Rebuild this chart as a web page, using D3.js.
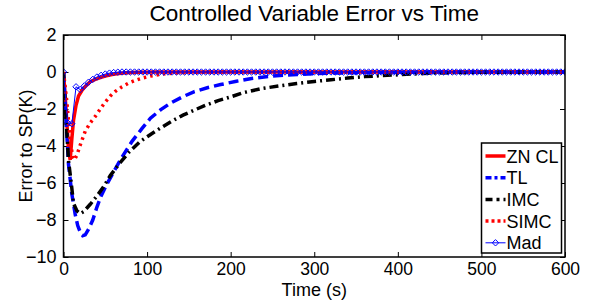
<!DOCTYPE html>
<html>
<head>
<meta charset="utf-8">
<script src="https://cdn.jsdelivr.net/npm/d3@7"></script>
<style>
  body { margin: 0; background: #fff; }
  text { font-family: "Liberation Sans", Arial, sans-serif; }
</style>
</head>
<body>
<div id="chart"></div>
<script>
// ZN CL (red solid)
const znTime = [0, 3, 6, 8, 10, 12, 15, 18, 22, 26, 32, 38, 44, 50, 58, 66, 75, 90, 110, 600];
const znErr  = [0, -2.0, -4.2, -4.75, -3.6, -2.6, -1.8, -1.3, -1.0, -0.78, -0.52, -0.4, -0.3, -0.22, -0.14, -0.08, -0.04, -0.01, 0, 0];

// TL (blue dashed)
const tlTime = [0, 3, 6, 10, 14, 17, 20, 23, 26, 30, 35, 40, 45, 52, 60, 70, 82, 94, 104, 116, 128, 142, 156, 172, 188, 207, 225, 250, 280, 320, 380, 450, 600];
const tlErr  = [0, -2.6, -5.0, -6.6, -7.7, -8.3, -8.65, -8.85, -8.8, -8.5, -8.0, -7.3, -6.7, -6.05, -5.4, -4.6, -3.75, -3.05, -2.5, -2.05, -1.68, -1.35, -1.07, -0.85, -0.68, -0.5, -0.35, -0.22, -0.13, -0.06, -0.02, 0, 0];

// IMC (black dash-dot)
const imcTime = [0, 3, 6, 9, 12, 16, 20, 24, 28, 32, 40, 48, 56, 66, 78, 92, 105, 116, 130, 143, 157, 171, 185, 199, 215, 239, 260, 279, 300, 320, 340, 360, 380, 400, 430, 470, 520, 600];
const imcErr  = [0, -2.5, -4.8, -5.9, -7.1, -7.5, -7.65, -7.55, -7.35, -7.15, -6.7, -6.2, -5.6, -5.0, -4.35, -3.75, -3.35, -3.03, -2.65, -2.33, -2.05, -1.78, -1.55, -1.36, -1.12, -0.88, -0.74, -0.62, -0.51, -0.42, -0.33, -0.25, -0.2, -0.15, -0.08, -0.03, -0.01, 0];

// SIMC (red dotted)
const simcTime = [0, 4, 8, 11, 13, 16, 20, 26, 32, 38, 44, 50, 56, 62, 70, 78, 86, 94, 104, 115, 130, 150, 180, 600];
const simcErr  = [0, -1.6, -3.7, -4.6, -4.75, -4.5, -3.95, -3.2, -2.75, -2.4, -2.0, -1.62, -1.3, -1.05, -0.8, -0.6, -0.45, -0.33, -0.22, -0.13, -0.06, -0.02, 0, 0];

// Mad (blue with diamonds), sampled every 5 s
const madTime = d3.range(0, 601, 5);
const madErr = [
  0, -2.75, -2.8, -0.8, -0.95, -0.75, -0.55, -0.4, -0.27, -0.18,
  -0.11, -0.06, -0.03, -0.01, 0, 0, 0, 0, 0, 0,
  0, 0, 0, 0, 0, 0, 0, 0, 0, 0,
  0, 0, 0, 0, 0, 0, 0, 0, 0, 0,
  0, 0, 0, 0, 0, 0, 0, 0, 0, 0,
  0, 0, 0, 0, 0, 0, 0, 0, 0, 0,
  0, 0, 0, 0, 0, 0, 0, 0, 0, 0,
  0, 0, 0, 0, 0, 0, 0, 0, 0, 0,
  0, 0, 0, 0, 0, 0, 0, 0, 0, 0,
  0, 0, 0, 0, 0, 0, 0, 0, 0, 0,
  0, 0, 0, 0, 0, 0, 0, 0, 0, 0,
  0, 0, 0, 0, 0, 0, 0, 0, 0, 0,
  0
];

const xTicks = [0, 100, 200, 300, 400, 500, 600];
const yTicks = [-10, -8, -6, -4, -2, 0, 2];

const series = [
  { name: "ZN CL", t: znTime, v: znErr, color: "#ff0000", width: 3.5, dash: null, legendDash: null },
  { name: "TL", t: tlTime, v: tlErr, color: "#0000ff", width: 3.5, dash: "10,5", legendDash: "6,3,3,3" },
  { name: "IMC", t: imcTime, v: imcErr, color: "#000000", width: 3.5, dash: "9,4,2,4", legendDash: "7,4,3,4" },
  { name: "SIMC", t: simcTime, v: simcErr, color: "#ff0000", width: 3.5, dash: "2.5,4", legendDash: "3,3" },
  { name: "Mad", t: madTime, v: madErr, color: "#0000ff", width: 1, dash: null, legendDash: null, marker: true }
];

const W = 589, H = 300;
const margin = { top: 35, right: 24, bottom: 43, left: 63.5 };
const width = W - margin.left - margin.right;
const height = H - margin.top - margin.bottom;

const svg = d3.select("#chart")
  .append("svg")
  .attr("width", W)
  .attr("height", H);

const g = svg.append("g")
  .attr("transform", `translate(${margin.left},${margin.top})`);

const x = d3.scaleLinear().domain([0, 600]).range([0, width]);
const y = d3.scaleLinear().domain([-10, 2]).range([height, 0]);

g.append("defs").append("clipPath").attr("id", "clip")
  .append("rect").attr("width", width).attr("height", height);

// ticks on all four sides, pointing inward
g.append("g")
  .attr("transform", `translate(0,${height})`)
  .call(d3.axisBottom(x).tickValues(xTicks).tickSize(-5).tickPadding(6).tickSizeOuter(0))
  .call(a => a.select(".domain").remove())
  .selectAll("text").style("font-size", "17.5px");

g.append("g")
  .call(d3.axisTop(x).tickValues(xTicks).tickSize(-5).tickFormat("").tickSizeOuter(0))
  .call(a => a.select(".domain").remove());

g.append("g")
  .call(d3.axisLeft(y).tickValues(yTicks).tickSize(-5).tickPadding(7).tickSizeOuter(0))
  .call(a => a.select(".domain").remove())
  .selectAll("text").style("font-size", "18px");

g.append("g")
  .attr("transform", `translate(${width},0)`)
  .call(d3.axisRight(y).tickValues(yTicks).tickSize(-5).tickFormat("").tickSizeOuter(0))
  .call(a => a.select(".domain").remove());

g.selectAll(".tick line").attr("stroke", "#000").attr("stroke-width", 1);

const line = d3.line().x(d => x(d[0])).y(d => y(d[1]));

const plot = g.append("g").attr("clip-path", "url(#clip)");

series.forEach(s => {
  const pts = s.t.map((t, i) => [t, s.v[i]]);
  plot.append("path")
    .datum(pts)
    .attr("fill", "none")
    .attr("stroke", s.color)
    .attr("stroke-width", s.width)
    .attr("stroke-dasharray", s.dash)
    .attr("d", line);
  if (s.marker) {
    plot.selectAll(".mk")
      .data(pts)
      .join("path")
      .attr("class", "mk")
      .attr("transform", d => `translate(${x(d[0])},${y(d[1])})`)
      .attr("d", "M0,-3.2L3.2,0L0,3.2L-3.2,0Z")
      .attr("fill", "none")
      .attr("stroke", s.color)
      .attr("stroke-width", 1);
  }
});

// axes box
g.append("rect")
  .attr("width", width)
  .attr("height", height)
  .attr("fill", "none")
  .attr("stroke", "#000")
  .attr("stroke-width", 1.5);

// title and axis labels
svg.append("text")
  .attr("x", margin.left + width / 2)
  .attr("y", 21)
  .attr("text-anchor", "middle")
  .style("font-size", "22.5px")
  .text("Controlled Variable Error vs Time");

svg.append("text")
  .attr("x", margin.left + width / 2)
  .attr("y", 296)
  .attr("text-anchor", "middle")
  .style("font-size", "18px")
  .text("Time (s)");

svg.append("text")
  .attr("transform", `translate(32,${margin.top + height / 2}) rotate(-90)`)
  .attr("text-anchor", "middle")
  .style("font-size", "18px")
  .text("Error to SP(K)");

// legend
const legend = svg.append("g").attr("transform", "translate(481.5,143)");
legend.append("rect")
  .attr("width", 80)
  .attr("height", 110)
  .attr("fill", "#fff")
  .attr("stroke", "#000")
  .attr("stroke-width", 1.5);

const item = legend.selectAll(".legend-key")
  .data(series)
  .join("g")
  .attr("class", "legend-key")
  .attr("transform", (d, i) => `translate(0,${13 + i * 21.7})`);

item.append("line")
  .attr("x1", 4).attr("x2", 24)
  .attr("stroke", d => d.color)
  .attr("stroke-width", d => d.marker ? 1 : 3.5)
  .attr("stroke-dasharray", d => d.legendDash);

item.filter(d => d.marker).append("path")
  .attr("transform", "translate(14,0)")
  .attr("d", "M0,-3.2L3.2,0L0,3.2L-3.2,0Z")
  .attr("fill", "none")
  .attr("stroke", d => d.color);

item.append("text")
  .attr("x", 25)
  .attr("y", 6.5)
  .style("font-size", "18px")
  .text(d => d.name);
</script>
</body>
</html>
